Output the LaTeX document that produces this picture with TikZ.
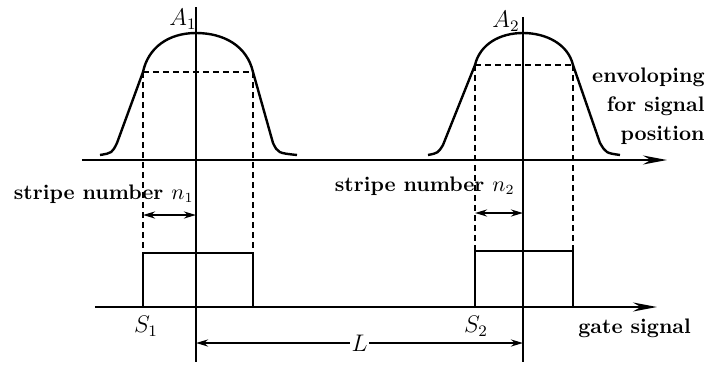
\documentclass[tikz,border=0pt]{standalone}
\usepackage{amsmath}
\usetikzlibrary{arrows.meta}

\begin{document}
\begin{tikzpicture}[
        x=0.5pt, y=-0.5pt,
        axis/.style  = {line width=1.1pt, -{Stealth[length=12pt, width=4.5pt]}},
        sig/.style   = {line width=1.2pt},
        guide/.style = {line width=1pt, dash pattern=on 3pt off 2pt},
        dim/.style   = {line width=1pt, {Stealth[length=6pt, width=3.5pt]}-{Stealth[length=6pt, width=3.5pt]}},
        lbl/.style   = {font=\bfseries\fontsize{10.5}{12}\selectfont, inner sep=1pt},
        sym/.style   = {font=\fontsize{12}{14}\selectfont, inner sep=1pt},
    ]
        \useasboundingbox (0,0) rectangle (720,365);

        %---- axes ----
        \coordinate (ua0) at (82,160);
        \coordinate (ua1) at (667,160);
        \coordinate (la0) at (95,307);
        \coordinate (la1) at (657,307);
        \draw[axis] (ua0) -- (ua1);
        \draw[axis] (la0) -- (la1);

        %---- pulse 1 ----
        \coordinate (c1t) at (196,7);
        \coordinate (c1b) at (196,362);
        \coordinate (h1l) at (143,72);
        \coordinate (h1r) at (253,72);
        \coordinate (g1l) at (143,253);
        \coordinate (g1r) at (253,253);
        \draw[sig] (c1t) -- (c1b);
        \draw[sig] (100,155) .. controls (112,153) .. (117,143) -- (h1l)
            .. controls (148,48) and (168,33) .. (196,33)
            .. controls (224,33) and (247,46) .. (h1r)
            -- (273,143) .. controls (278,153) .. (297,155);
        \draw[guide] (h1l) -- (h1r);
        \draw[guide] (h1l) -- (g1l);
        \draw[guide] (h1r) -- (g1r);
        \draw[sig] (g1l |- la0) -- (g1l) -- (g1r) -- (g1r |- la0);
        \node[sym] (a1) at (183,19) {$A_1$};
        \node[sym] (s1) at (146,326) {$S_1$};

        %---- pulse 2 ----
        \coordinate (c2t) at (523,17);
        \coordinate (c2b) at (523,362);
        \coordinate (h2l) at (475,65);
        \coordinate (h2r) at (573,65);
        \coordinate (g2l) at (475,251);
        \coordinate (g2r) at (573,251);
        \draw[sig] (c2t) -- (c2b);
        \draw[sig] (428,155) .. controls (438,153) .. (443,145) -- (h2l)
            .. controls (480,44) and (500,33) .. (523,33)
            .. controls (546,33) and (568,44) .. (h2r)
            -- (600,143) .. controls (606,153) .. (620,155);
        \draw[guide] (h2l) -- (h2r);
        \draw[guide] (h2l) -- (g2l);
        \draw[guide] (h2r) -- (g2r);
        \draw[sig] (g2l |- la0) -- (g2l) -- (g2r) -- (g2r |- la0);
        \node[sym] (a2) at (506,21) {$A_2$};
        \node[sym] (s2) at (476,326) {$S_2$};

        %---- dimensions ----
        \draw[dim] (h1l |- 0,215) -- (c1t |- 0,215);
        \draw[dim] (h2l |- 0,213) -- (c2t |- 0,213);
        \draw[dim] (c1t |- 0,343) -- node[sym, fill=white] (ll) {$L$} (c2t |- 0,343);

        %---- labels ----
        \node[lbl, anchor=east] (n1) at (196,194) {stripe number $n_1$};
        \node[lbl, anchor=east] (n2) at (517,186) {stripe number $n_2$};
        \node[lbl, anchor=west] (gs) at (576,328) {gate signal};
        \node[lbl, anchor=east, align=right, font={\bfseries\fontsize{10.5}{14.5}\selectfont}] (env) at (707,106)
            {envoloping\\for signal\\position};
    \end{tikzpicture}
\end{document}
